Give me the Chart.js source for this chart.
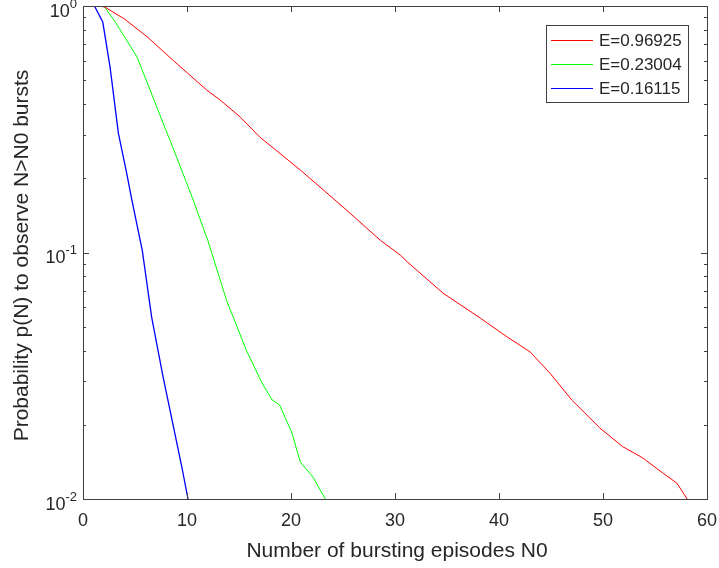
<!DOCTYPE html>
<html>
<head>
<meta charset="utf-8">
<script src="https://cdn.jsdelivr.net/npm/chart.js@4/dist/chart.umd.min.js"></script>
<style>
  html, body { margin: 0; padding: 0; background: #fff; }
  #wrap { width: 719px; height: 568px; }
</style>
</head>
<body>
<div id="wrap"><canvas id="survivalChart" width="719" height="568"></canvas></div>
<script>
// Survival curves p(N > N0) for three values of E
const seriesLabels = ['E=0.96925', 'E=0.23004', 'E=0.16115'];
const seriesColors = ['#ff0000', '#00ff00', '#0000ff'];

const redX = [1.6, 2.1, 4.0, 6.2, 8.7, 11.9, 13.2, 15.1, 17.0, 20.9, 25.0, 28.6, 30.5, 31.2, 34.6, 38.2, 40.8, 43.0, 44.9, 47.0, 49.7, 51.9, 53.8, 55.8, 57.1, 58.1];
const redY = [1.0, 0.99, 0.885, 0.748, 0.6, 0.456, 0.415, 0.355, 0.294, 0.216, 0.153, 0.112, 0.0977, 0.0915, 0.0685, 0.0542, 0.0454, 0.0395, 0.0324, 0.0252, 0.0194, 0.0163, 0.0147, 0.0127, 0.0116, 0.01];

const greenX = [1.8, 2.1, 3.1, 5.2, 7.4, 9.0, 10.6, 12.0, 13.8, 15.7, 17.2, 18.2, 18.9, 20.1, 20.9, 22.1, 23.3];
const greenY = [1.0, 0.99, 0.861, 0.621, 0.361, 0.244, 0.163, 0.112, 0.064, 0.0402, 0.0296, 0.0252, 0.0241, 0.0185, 0.0141, 0.0123, 0.01];

const blueX = [1.1, 1.9, 2.6, 3.4, 4.2, 4.7, 5.7, 6.6, 7.7, 8.7, 9.5, 10.1];
const blueY = [1.0, 0.861, 0.566, 0.305, 0.21, 0.163, 0.102, 0.0547, 0.0313, 0.0196, 0.0135, 0.01];

const xTicks = [0, 10, 20, 30, 40, 50, 60];
const yExponents = [0, -1, -2];

const toPoints = (xs, ys) => xs.map((x, i) => ({ x: x, y: ys[i] }));

const axisColor = '#404040';
const textColor = '#262626';
const fontFamily = 'Arial, "Liberation Sans", Helvetica, sans-serif';

// MATLAB-style box, inward ticks, superscript labels and legend
const matlabAxes = {
    id: 'matlabAxes',
    afterDatasetsDraw(chart) {
        const ctx = chart.ctx;
        const area = chart.chartArea;
        const xs = chart.scales.x;
        const ys = chart.scales.y;
        ctx.save();

        // box
        ctx.strokeStyle = axisColor;
        ctx.lineWidth = 1;
        ctx.strokeRect(Math.round(area.left) + 0.5, Math.round(area.top) + 0.5,
            Math.round(area.right - area.left), Math.round(area.bottom - area.top));

        // x ticks (bottom and top)
        ctx.beginPath();
        xTicks.forEach(v => {
            const px = Math.round(xs.getPixelForValue(v)) + 0.5;
            ctx.moveTo(px, area.bottom); ctx.lineTo(px, area.bottom - 6);
            ctx.moveTo(px, area.top); ctx.lineTo(px, area.top + 6);
        });
        // y ticks, major and minor (left and right)
        for (let d = -2; d <= 0; d++) {
            for (let m = 1; m <= 9; m++) {
                const v = m * Math.pow(10, d);
                if (v > 1.0001) break;
                const py = Math.round(ys.getPixelForValue(v)) + 0.5;
                const len = m === 1 ? 6 : 3;
                ctx.moveTo(area.left, py); ctx.lineTo(area.left + len, py);
                ctx.moveTo(area.right, py); ctx.lineTo(area.right - len, py);
            }
        }
        ctx.stroke();

        // x tick labels
        ctx.fillStyle = textColor;
        ctx.font = '18px ' + fontFamily;
        ctx.textAlign = 'center';
        ctx.textBaseline = 'middle';
        xTicks.forEach(v => {
            ctx.fillText(String(v), xs.getPixelForValue(v), area.bottom + 22);
        });

        // y tick labels: 10 with superscript exponent
        yExponents.forEach(e => {
            const py = ys.getPixelForValue(Math.pow(10, e));
            const sup = String(e);
            ctx.font = '13px ' + fontFamily;
            const supW = ctx.measureText(sup).width;
            const right = area.left - 6;
            ctx.textAlign = 'left';
            ctx.fillText(sup, right - supW, py - 2);
            ctx.font = '18px ' + fontFamily;
            ctx.textAlign = 'right';
            ctx.fillText('10', right - supW, py + 6);
        });

        // axis titles
        ctx.font = '21px ' + fontFamily;
        ctx.textAlign = 'center';
        ctx.textBaseline = 'alphabetic';
        ctx.fillText('Number of bursting episodes N0', (area.left + area.right) / 2 + 2, area.bottom + 58);
        ctx.save();
        ctx.translate(28, (area.top + area.bottom) / 2 + 3);
        ctx.rotate(-Math.PI / 2);
        ctx.fillText('Probability p(N) to observe N>N0 bursts', 0, 0);
        ctx.restore();

        // legend
        const lx = 546, ly = 25, lw = 142, lh = 77;
        ctx.fillStyle = '#fff';
        ctx.fillRect(lx, ly, lw, lh);
        ctx.strokeStyle = axisColor;
        ctx.strokeRect(lx + 0.5, ly + 0.5, lw, lh);
        ctx.font = '17px ' + fontFamily;
        ctx.textAlign = 'left';
        ctx.textBaseline = 'middle';
        seriesLabels.forEach((label, i) => {
            const y = ly + 15 + i * 24;
            ctx.strokeStyle = seriesColors[i];
            ctx.beginPath();
            ctx.moveTo(lx + 5, y + 0.5); ctx.lineTo(lx + 47, y + 0.5);
            ctx.stroke();
            ctx.fillStyle = textColor;
            ctx.fillText(label, lx + 53, y + 1);
        });

        ctx.restore();
    }
};

const makeDataset = (i, xs, ys, width) => ({
    label: seriesLabels[i],
    data: toPoints(xs, ys),
    borderColor: seriesColors[i],
    borderWidth: width,
    showLine: true,
    pointRadius: 0,
    tension: 0,
    fill: false
});

new Chart(document.getElementById('survivalChart').getContext('2d'), {
    type: 'scatter',
    data: {
        datasets: [
            makeDataset(0, redX, redY, 1),
            makeDataset(1, greenX, greenY, 1),
            makeDataset(2, blueX, blueY, 1.3)
        ]
    },
    options: {
        responsive: false,
        animation: false,
        layout: { padding: { left: 83, top: 6, right: 12, bottom: 69 } },
        plugins: {
            legend: { display: false },
            tooltip: { enabled: false }
        },
        scales: {
            x: { type: 'linear', min: 0, max: 60, display: false },
            y: { type: 'logarithmic', min: 0.01, max: 1, display: false }
        }
    },
    plugins: [matlabAxes]
});
</script>
</body>
</html>
